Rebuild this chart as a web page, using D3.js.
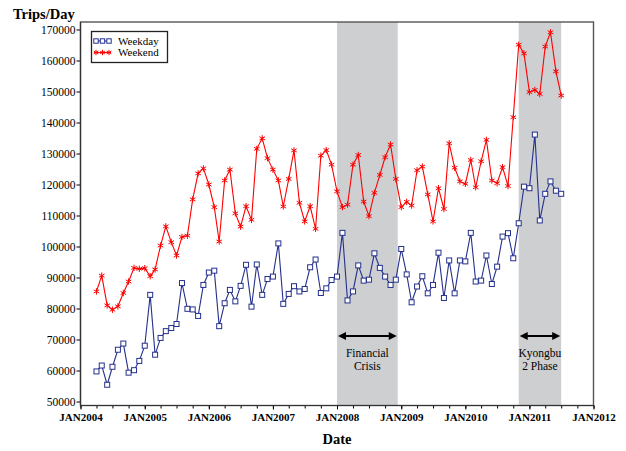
<!DOCTYPE html>
<html>
<head>
<meta charset="utf-8">
<script src="https://cdn.jsdelivr.net/npm/d3@7"></script>
<style>
  body { margin: 0; background: #fff; }
  svg { display: block; }
</style>
</head>
<body>
<svg id="chart" width="626" height="451" font-family="'Liberation Serif', 'Times New Roman', serif"></svg>
<script>
// Monthly average trips per day, April 2004 through July 2011
const firstMonth = [2004, 3];   // year, zero-based month
const lastMonth  = [2011, 6];

const weekday = [
  59700, 61600, 55400, 61200, 66700, 68700, 59300, 60100, 63100,            // 2004 Apr-Dec
  68000, 84400, 65100, 70500, 72700, 73700, 75000, 88200, 79900, 79700, 77600, 87600, // 2005
  91600, 92200, 74300, 81700, 86000, 82300, 87300, 94100, 80600, 94200, 84400, 89500, // 2006
  90300, 101000, 81500, 84700, 87200, 85500, 86300, 93300, 95800, 85000, 86500, 89200, // 2007
  90300, 104400, 82600, 85500, 93900, 89000, 89300, 97800, 93100, 90300, 87600, 89300, // 2008
  99200, 91000, 82000, 87100, 90400, 84900, 87600, 98000, 83400, 95500, 84900, 95500,  // 2009
  95200, 104400, 88700, 89000, 97100, 87900, 93500, 103200, 104300, 96200, 107500, 119300, // 2010
  118800, 136100, 108400, 117000, 121000, 118000, 117000                                // 2011 Jan-Jul
];

const weekend = [
  85500, 90600, 81000, 79600, 80700, 85000, 88700, 93100, 92800,            // 2004 Apr-Dec
  93000, 90400, 92600, 100300, 106500, 101400, 97100, 103100, 103500, 115200, 123600, 125200, // 2005
  120000, 112700, 101600, 121300, 124800, 110700, 106400, 113000, 108600, 131500, 134900, 128500, // 2006
  124800, 121300, 112900, 121800, 131000, 114100, 108100, 113000, 105700, 129300, 131100, 126400, // 2007
  117800, 112700, 113500, 126400, 129500, 114500, 109800, 117300, 123100, 128800, 132900, 121800, // 2008
  112700, 114400, 113200, 124600, 125800, 116800, 108100, 118800, 112100, 133300, 125400, 121000, // 2009
  120200, 127900, 119100, 127500, 134400, 121300, 120400, 125600, 119500, 141700, 165100, 162300, // 2010
  149800, 150500, 149200, 164500, 169100, 156500, 148700                                        // 2011 Jan-Jul
];

const seriesNames = ["Weekday", "Weekend"];
const yTicks = [50000, 60000, 70000, 80000, 90000, 100000, 110000, 120000,
                130000, 140000, 150000, 160000, 170000];
const xTickLabels = ["JAN2004", "JAN2005", "JAN2006", "JAN2007", "JAN2008",
                     "JAN2009", "JAN2010", "JAN2011", "JAN2012"];

// Shaded periods: [start, end] as [year, zero-based month, day]
const bandStarts = [[2008, 0, 1], [2010, 10, 1]];
const bandEnds   = [[2008, 11, 12], [2011, 6, 1]];
const bandLabels = [["Financial", "Crisis"], ["Kyongbu", "2 Phase"]];

const weekdayColor = "#24308c";
const weekendColor = "#ff0000";
const serif = "'Liberation Serif', 'Times New Roman', serif";

const utc = (y, m, d = 1) => new Date(Date.UTC(y, m, d));
const months = d3.utcMonth.range(utc(...firstMonth), utc(lastMonth[0], lastMonth[1] + 1));
const yearTicks = d3.utcYear.range(utc(2004, 0), utc(2012, 0, 2));
const quarterTicks = d3.utcMonth.every(3).range(utc(2004, 0), utc(2012, 0, 2));

const plot = { left: 80.5, right: 593.5, top: 22, bottom: 405.5 };

const svg = d3.select("#chart");

const x = d3.scaleUtc()
  .domain([utc(2004, 0), utc(2012, 0)])
  .range([plot.left, plot.right]);

const y = d3.scaleLinear()
  .domain([50000, 170000])
  .range([401.5, 29.5]);

// Shaded periods
const bands = svg.append("g");
bandStarts.forEach((s, i) => {
  const x0 = x(utc(...s)), x1 = x(utc(...bandEnds[i]));
  bands.append("rect")
    .attr("x", x0).attr("y", plot.top)
    .attr("width", x1 - x0).attr("height", plot.bottom - plot.top)
    .attr("fill", "#cdcfd1");
});

// Plot frame
svg.append("rect")
  .attr("x", plot.left).attr("y", plot.top)
  .attr("width", plot.right - plot.left).attr("height", plot.bottom - plot.top)
  .attr("fill", "none").attr("stroke", "#555").attr("stroke-width", 1.4);

// Y axis
const yAxis = svg.append("g")
  .attr("transform", `translate(${plot.left},0)`)
  .call(d3.axisLeft(y).tickValues(yTicks).tickSize(4).tickPadding(1).tickFormat(d3.format("d")))
  .attr("font-family", serif).attr("font-size", 11.5);
yAxis.select(".domain").remove();

// X axis: yearly major ticks, quarterly minor ticks
const xMinor = svg.append("g")
  .attr("transform", `translate(0,${plot.bottom})`)
  .call(d3.axisBottom(x).tickValues(quarterTicks).tickSize(3).tickFormat(""));
xMinor.select(".domain").remove();

const xAxis = svg.append("g")
  .attr("transform", `translate(0,${plot.bottom})`)
  .call(d3.axisBottom(x).tickValues(yearTicks).tickSize(4).tickPadding(4)
    .tickFormat((d, i) => xTickLabels[i]))
  .attr("font-family", serif).attr("font-size", 11).attr("font-weight", "bold");
xAxis.select(".domain").remove();
svg.selectAll(".tick line").attr("stroke", "#000");

// Axis lines drawn over the frame
svg.append("line")
  .attr("x1", plot.left).attr("x2", plot.left)
  .attr("y1", plot.top).attr("y2", plot.bottom)
  .attr("stroke", "#333").attr("stroke-width", 1.2);
svg.append("line")
  .attr("x1", plot.left).attr("x2", plot.right)
  .attr("y1", plot.bottom).attr("y2", plot.bottom)
  .attr("stroke", "#333").attr("stroke-width", 1.2);

// Axis titles
svg.append("text")
  .attr("x", 13).attr("y", 19)
  .attr("font-size", 14.5).attr("font-weight", "bold")
  .text("Trips/Day");
svg.append("text")
  .attr("x", (plot.left + plot.right) / 2).attr("y", 444)
  .attr("text-anchor", "middle")
  .attr("font-size", 14.5).attr("font-weight", "bold")
  .text("Date");

// Period annotations: double-headed arrow and caption
const arrowY = 336;
bandStarts.forEach((s, i) => {
  const x0 = x(utc(...s)) + 1, x1 = x(utc(...bandEnds[i])) - 1;
  const g = svg.append("g");
  g.append("line")
    .attr("x1", x0 + 4).attr("x2", x1 - 4)
    .attr("y1", arrowY).attr("y2", arrowY)
    .attr("stroke", "#000").attr("stroke-width", 2.2);
  g.append("path")
    .attr("d", `M${x0},${arrowY} l8,-4 v8 Z M${x1},${arrowY} l-8,-4 v8 Z`)
    .attr("fill", "#000");
  const cx = (x0 + x1) / 2;
  bandLabels[i].forEach((t, j) => {
    g.append("text")
      .attr("x", cx).attr("y", 357 + j * 13)
      .attr("text-anchor", "middle")
      .attr("font-size", 11.5)
      .text(t);
  });
});

// Series lines
const line = d3.line().x((d, i) => x(months[i])).y(d => y(d));

svg.append("path")
  .datum(weekend)
  .attr("d", line)
  .attr("fill", "none").attr("stroke", weekendColor).attr("stroke-width", 1.1);

svg.append("path")
  .datum(weekday)
  .attr("d", line)
  .attr("fill", "none").attr("stroke", weekdayColor).attr("stroke-width", 1.1);

// Markers
const star = d3.symbol().type(d3.symbolAsterisk).size(28);
svg.append("g").selectAll("path")
  .data(weekend)
  .join("path")
  .attr("transform", (d, i) => `translate(${x(months[i])},${y(d)})`)
  .attr("d", star)
  .attr("fill", "none").attr("stroke", weekendColor).attr("stroke-width", 1);

svg.append("g").selectAll("rect")
  .data(weekday)
  .join("rect")
  .attr("x", (d, i) => x(months[i]) - 2.5)
  .attr("y", d => y(d) - 2.5)
  .attr("width", 5).attr("height", 5)
  .attr("fill", "#fff").attr("stroke", weekdayColor).attr("stroke-width", 1);

// Legend
const legend = svg.append("g");
legend.append("rect")
  .attr("x", 91.5).attr("y", 31.5).attr("width", 76).attr("height", 31)
  .attr("fill", "#fff").attr("stroke", "#222").attr("stroke-width", 1.3);

const legendColors = [weekdayColor, weekendColor];
seriesNames.forEach((name, i) => {
  const ly = 41 + i * 11.5;
  legend.append("line")
    .attr("x1", 94).attr("x2", 111).attr("y1", ly).attr("y2", ly)
    .attr("stroke", legendColors[i]).attr("stroke-width", 1.1);
  [96, 102.5, 109].forEach(mx => {
    if (i === 0) {
      legend.append("rect")
        .attr("x", mx - 2.2).attr("y", ly - 2.2).attr("width", 4.4).attr("height", 4.4)
        .attr("fill", "#fff").attr("stroke", weekdayColor).attr("stroke-width", 1);
    } else {
      legend.append("path")
        .attr("transform", `translate(${mx},${ly})`)
        .attr("d", d3.symbol().type(d3.symbolAsterisk).size(20))
        .attr("fill", "none").attr("stroke", weekendColor).attr("stroke-width", 1);
    }
  });
  legend.append("text")
    .attr("x", 118).attr("y", ly + 3.8)
    .attr("font-size", 11)
    .text(name);
});
</script>
</body>
</html>
